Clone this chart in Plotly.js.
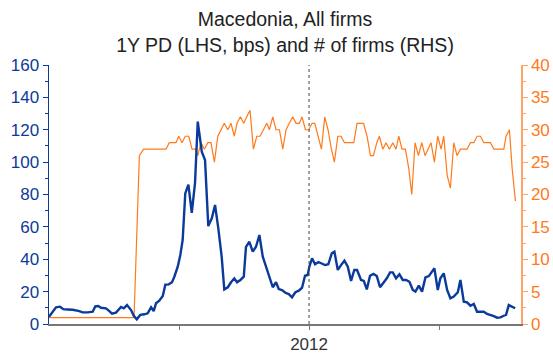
<!DOCTYPE html>
<html>
<head>
<meta charset="utf-8">
<script src="https://cdn.plot.ly/plotly-3.0.1.min.js"></script>
<style>html,body{margin:0;padding:0;background:#fff;}#chart{width:553px;height:353px;}</style>
</head>
<body>
<div id="chart"></div>
<script>
// 1Y PD (LHS, bps) — time in decimal years
const pdYear = [2010.000,2010.054,2010.085,2010.110,2010.144,2010.182,2010.233,2010.259,2010.298,2010.336,2010.356,2010.379,2010.400,2010.438,2010.464,2010.485,2010.515,2010.554,2010.575,2010.600,2010.631,2010.652,2010.675,2010.702,2010.733,2010.759,2010.785,2010.805,2010.823,2010.848,2010.875,2010.895,2010.921,2010.946,2010.964,2010.990,2011.010,2011.028,2011.048,2011.072,2011.098,2011.123,2011.144,2011.175,2011.200,2011.225,2011.252,2011.277,2011.302,2011.328,2011.348,2011.375,2011.400,2011.425,2011.446,2011.472,2011.498,2011.515,2011.541,2011.567,2011.592,2011.618,2011.644,2011.669,2011.695,2011.721,2011.746,2011.767,2011.792,2011.818,2011.844,2011.869,2011.895,2011.921,2011.946,2011.969,2011.990,2012.002,2012.023,2012.046,2012.072,2012.098,2012.123,2012.148,2012.175,2012.195,2012.221,2012.246,2012.272,2012.298,2012.323,2012.348,2012.369,2012.400,2012.421,2012.444,2012.469,2012.495,2012.521,2012.546,2012.572,2012.598,2012.623,2012.644,2012.669,2012.695,2012.721,2012.746,2012.772,2012.798,2012.818,2012.844,2012.869,2012.895,2012.921,2012.946,2012.964,2012.990,2013.010,2013.036,2013.062,2013.087,2013.113,2013.144,2013.164,2013.190,2013.215,2013.241,2013.267,2013.292,2013.318,2013.344,2013.369,2013.395,2013.421,2013.446,2013.472,2013.498,2013.515,2013.536,2013.562,2013.585];
const pdValue = [4.5,10.3,10.7,9.2,9.0,8.8,8.0,7.2,7.2,7.6,10.9,11.1,10.0,9.7,8.0,6.4,7.0,10.5,9.7,11.7,8.6,5.1,2.9,5.6,6.0,6.6,10.3,8.0,12.8,14.4,17.3,24.3,24.5,25.8,29.2,35.4,42.6,51.9,80.7,86.1,68.6,87.1,125.0,106.4,101.3,60.5,65.3,73.5,59.1,41.6,21.4,22.7,25.8,28.2,25.8,27.2,29.2,47.7,50.8,44.7,47.7,55.0,41.6,35.4,28.2,22.7,25.8,21.6,21.0,19.3,18.5,16.5,19.6,20.6,22.4,29.8,30.3,35.4,40.6,36.9,38.3,37.5,36.4,36.9,43.7,44.7,33.4,36.4,39.1,35.4,26.6,33.4,33.4,27.2,26.6,21.4,29.8,30.9,29.6,22.7,25.1,28.2,31.9,31.9,28.2,30.7,27.2,27.2,26.1,21.0,20.0,23.7,20.0,28.8,29.6,32.3,34.4,21.0,28.2,31.3,21.0,15.9,16.9,19.6,27.2,13.8,13.4,11.3,12.4,7.6,7.6,7.6,6.2,5.6,4.9,3.9,4.1,5.1,5.6,11.7,10.7,9.7];

// # of firms (RHS)
const firmsYear = [2010.000,2010.654,2010.695,2010.728,2010.900,2010.925,2010.977,2010.998,2011.023,2011.048,2011.075,2011.100,2011.125,2011.144,2011.169,2011.195,2011.221,2011.246,2011.272,2011.298,2011.323,2011.348,2011.375,2011.400,2011.425,2011.446,2011.472,2011.498,2011.521,2011.546,2011.572,2011.598,2011.623,2011.648,2011.675,2011.695,2011.721,2011.746,2011.772,2011.798,2011.823,2011.848,2011.875,2011.900,2011.925,2011.946,2011.972,2011.998,2012.023,2012.044,2012.069,2012.095,2012.121,2012.146,2012.172,2012.195,2012.221,2012.246,2012.272,2012.298,2012.323,2012.344,2012.369,2012.395,2012.419,2012.446,2012.472,2012.495,2012.521,2012.541,2012.567,2012.592,2012.618,2012.644,2012.669,2012.690,2012.715,2012.741,2012.767,2012.790,2012.815,2012.841,2012.867,2012.892,2012.918,2012.938,2012.964,2012.990,2013.015,2013.036,2013.062,2013.087,2013.113,2013.138,2013.164,2013.190,2013.215,2013.241,2013.267,2013.292,2013.318,2013.344,2013.369,2013.395,2013.421,2013.446,2013.472,2013.498,2013.515,2013.541,2013.562,2013.587];
const firmsCount = [1,1,26,27,27,28,28,29,28,29,29,27,27,26,28,27,28,28,25,29,30,31,30,31,29,31,32,31,32,33,27,29,29,30,31,30,32,30,30,27,30,31,32,31,31,32,30,30,31,31,29,27,32,30,27,25,29,29,28,28,28,28,31,31,31,29,26,26,28,29,27,28,27,28,27,29,27,27,24,20,28,26,28,26,27,28,25,29,27,29,23,21,28,26,27,27,27,28,28,29,29,28,28,28,27,27,27,27,29,30,24,19];

const xTickVals = [2011, 2012, 2013];
const xTickText = ['', '2012', ''];
const markerYear = 2012;

const titleText = 'Macedonia, All firms<br>1Y PD (LHS, bps) and # of firms (RHS)';

const BLUE = '#0a3a9a';
const ORANGE = '#ff7a1a';
const FONT = 'Liberation Sans, Arial, sans-serif';

const data = [
  {x: firmsYear, y: firmsCount, type: 'scatter', mode: 'lines', yaxis: 'y',
   line: {color: ORANGE, width: 1.2}, hoverinfo: 'skip'},
  {x: pdYear, y: pdValue, type: 'scatter', mode: 'lines', yaxis: 'y2',
   line: {color: BLUE, width: 2.4}, hoverinfo: 'skip'}
];

const layout = {
  width: 553, height: 353,
  margin: {l: 49, r: 32, t: 65, b: 29, pad: 0},
  paper_bgcolor: '#fff', plot_bgcolor: '#fff',
  showlegend: false,
  font: {family: FONT, size: 17, color: '#222'},
  title: {text: titleText, x: 0.5, xref: 'paper', xanchor: 'center', y: 0.925, yref: 'container', yanchor: 'top',
          font: {family: FONT, size: 19.5, color: '#222'}},
  xaxis: {
    range: [2010.0, 2013.63], showgrid: false, zeroline: false,
    showline: true, linecolor: '#777', linewidth: 2,
    tickmode: 'array', tickvals: xTickVals, ticktext: xTickText,
    ticks: 'outside', ticklen: 4, tickcolor: '#777', tickwidth: 1,
    tickfont: {family: FONT, size: 17, color: '#333'}
  },
  yaxis: {
    side: 'right', range: [0, 40], tick0: 0, dtick: 5,
    showgrid: false, zeroline: false,
    showline: true, linecolor: '#ffa366', linewidth: 1.5,
    ticks: 'outside', ticklen: 5, tickcolor: '#ffa366', tickwidth: 1,
    minor: {dtick: 2.5, ticks: 'outside', ticklen: 3, tickcolor: '#ffa366'},
    tickfont: {family: FONT, size: 17, color: ORANGE}
  },
  yaxis2: {
    side: 'left', overlaying: 'y', range: [0, 160], tick0: 0, dtick: 20,
    showgrid: false, zeroline: false,
    showline: true, linecolor: BLUE, linewidth: 1.5,
    ticks: 'outside', ticklen: 5, tickcolor: BLUE, tickwidth: 1,
    minor: {dtick: 10, ticks: 'outside', ticklen: 3, tickcolor: BLUE},
    tickfont: {family: FONT, size: 17, color: BLUE}
  },
  shapes: [{
    type: 'line', xref: 'x', yref: 'paper', x0: markerYear, x1: markerYear, y0: 0, y1: 1,
    line: {color: '#444', width: 1, dash: '3px,3px'}, layer: 'above'
  }]
};

Plotly.newPlot('chart', data, layout, {staticPlot: true, displayModeBar: false});
</script>
</body>
</html>
